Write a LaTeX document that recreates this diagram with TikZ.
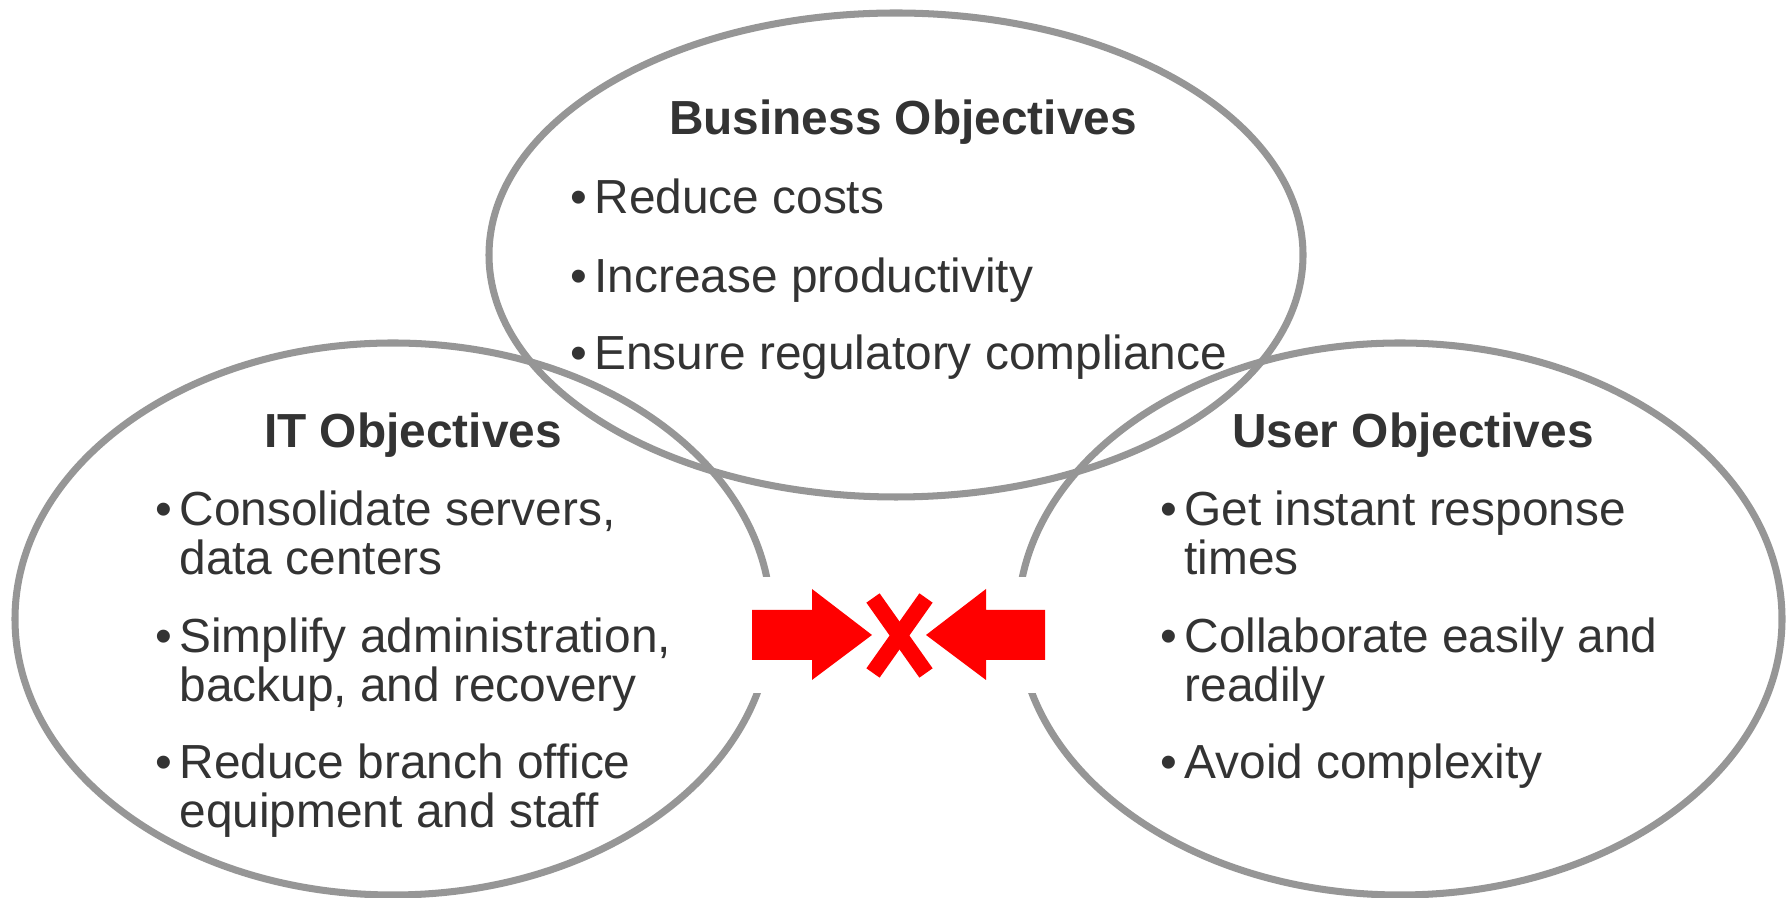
\documentclass[tikz,border=0pt]{standalone}
\usepackage{fontspec}
\setmainfont{Liberation Sans}
\definecolor{ringgray}{HTML}{969696}
\definecolor{inkgray}{HTML}{333333}
\definecolor{alarmred}{HTML}{FF0000}
\usetikzlibrary{positioning}
\newcommand{\dotgap}{•\kern2pt}
\newcommand{\nodot}{\phantom{\dotgap}}

\begin{document}
\begin{tikzpicture}[x=0.01cm, y=-0.01cm,
    ring/.style={draw=ringgray, line width=2pt},
    heading/.style={font=\fontsize{13.6}{16}\selectfont\bfseries, text=inkgray, inner sep=0pt, anchor=base},
    entry/.style={font=\fontsize{13.6}{16}\selectfont, text=inkgray, inner sep=0pt, anchor=base west}]
  \useasboundingbox (0,0) rectangle (1787,898);

  % Three objective ellipses
  \draw[ring] (896,255) ellipse [x radius=407, y radius=242];
  \draw[ring] (393,619) ellipse [x radius=378, y radius=276];
  \draw[ring] (1400,619) ellipse [x radius=382, y radius=276];

  % Business objectives
  \node[heading] (bizhead) at (903,135) {Business Objectives};
  \node[entry] (biz1) at (570,214) {\dotgap Reduce costs};
  \node[entry] (biz2) at (570,293) {\dotgap Increase productivity};
  \node[entry] (biz3) at (570,370) {\dotgap Ensure regulatory compliance};

  % IT objectives
  \node[heading] (ithead) at (413,448) {IT Objectives};
  \node[entry] (it1) at (155,526) {\dotgap Consolidate servers,};
  \node[entry] (it1b) at (155,575) {\nodot data centers};
  \node[entry] (it2) at (155,653) {\dotgap Simplify administration,};
  \node[entry] (it2b) at (155,702) {\nodot backup, and recovery};
  \node[entry] (it3) at (155,779) {\dotgap Reduce branch office};
  \node[entry] (it3b) at (155,828) {\nodot equipment and staff};

  % User objectives
  \node[heading] (userhead) at (1413,448) {User Objectives};
  \node[entry] (user1) at (1160,526) {\dotgap Get instant response};
  \node[entry] (user1b) at (1160,575) {\nodot times};
  \node[entry] (user2) at (1160,653) {\dotgap Collaborate easily and};
  \node[entry] (user2b) at (1160,702) {\nodot readily};
  \node[entry] (user3) at (1160,779) {\dotgap Avoid complexity};

  % Conflict marker
  \fill[white] (735,577) rectangle (1065,693);
  \fill[alarmred] (752,610) -- (812,610) -- (812,589) -- (872,635)
    -- (812,680) -- (812,660) -- (752,660) -- cycle;
  \fill[alarmred] (1045,610) -- (986,610) -- (986,589) -- (926,635)
    -- (986,680) -- (986,660) -- (1045,660) -- cycle;
  \draw[alarmred, line width=4.6pt] (873,598) -- (926,673);
  \draw[alarmred, line width=4.6pt] (926,598) -- (873,673);
\end{tikzpicture}
\end{document}
